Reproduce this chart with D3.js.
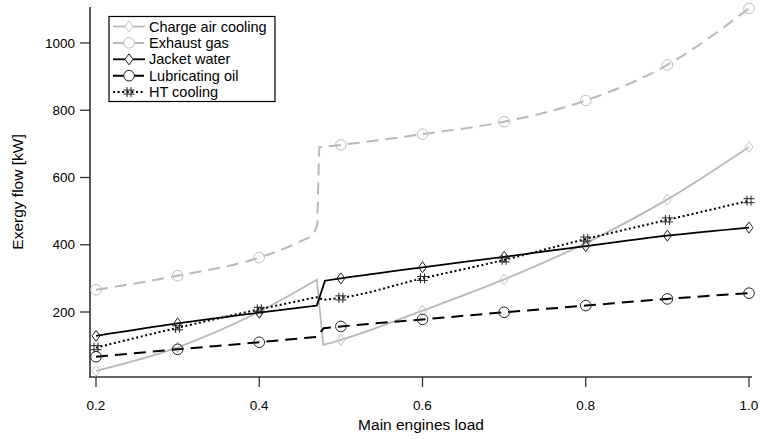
<!DOCTYPE html>
<html>
<head>
<meta charset="utf-8">
<script src="https://cdn.jsdelivr.net/npm/d3@7"></script>
<style>
  body { margin: 0; background: #fff; }
  svg text { font-family: "Liberation Sans", Arial, sans-serif; fill: #000; }
</style>
</head>
<body>
<div id="chart"></div>
<script>
// main engine load (marker positions)
const loads = [0.2, 0.3, 0.4, 0.5, 0.6, 0.7, 0.8, 0.9, 1.0];

// exergy flow [kW] at each load
const chargeAir = [25, 95, 201, 117, 204, 297, 405, 535, 691];
const exhaustGas = [266, 308, 362, 697, 729, 766, 829, 935, 1103];
const jacketWater = [129, 166, 198, 300, 333, 364, 396, 427, 451];
const lubeOil = [67, 89, 110, 157, 178, 199, 219, 239, 256];
const htCooling = [94, 153, 208, 242, 300, 355, 417, 474, 531];

// extra curve points read around the step near load 0.47
const chargeAirJump = [[0.4705, 296], [0.4785, 102]];
const exhaustGasJump = [[0.45, 410], [0.466, 432], [0.471, 458], [0.4735, 690]];
const jacketWaterJump = [[0.4705, 219], [0.4805, 293]];
const lubeOilJump = [[0.4705, 126], [0.479, 152]];
const htCoolingJump = [[0.4705, 244], [0.479, 236]];

const jumpAt = 0.472;

const xTicks = [0.2, 0.4, 0.6, 0.8, 1.0];
const yTicks = [200, 400, 600, 800, 1000];

const width = 760, height = 439;
const plot = { left: 90, right: 752, top: 7, bottom: 377 };

const svg = d3.select('#chart').append('svg')
    .attr('width', width)
    .attr('height', height);

const x = d3.scaleLinear().domain([0.2, 1.0]).range([96, 749]);
const y = d3.scaleLinear().domain([0, 1000]).range([379.25, 43]);

const series = [
    { name: 'Charge air cooling', values: chargeAir, jump: chargeAirJump,
      color: '#b9b9b9', markColor: '#c4c4c4', width: 1.8, dash: null, marker: 'diamond' },
    { name: 'Exhaust gas', values: exhaustGas, jump: exhaustGasJump,
      color: '#b9b9b9', markColor: '#bdbdbd', width: 2, dash: '12,7', marker: 'circle' },
    { name: 'Jacket water', values: jacketWater, jump: jacketWaterJump,
      color: '#000', markColor: '#222', width: 1.8, dash: null, marker: 'diamond' },
    { name: 'Lubricating oil', values: lubeOil, jump: lubeOilJump,
      color: '#000', markColor: '#222', width: 2, dash: '12,7', marker: 'circle' },
    { name: 'HT cooling', values: htCooling, jump: htCoolingJump,
      color: '#000', markColor: '#222', width: 2, dash: '2,2.6', marker: 'hash' }
];

const line = d3.line()
    .x(d => x(d[0]))
    .y(d => y(d[1]))
    .curve(d3.curveMonotoneX);

function markerPath(type) {
    if (type === 'diamond') return 'M0,-5.5L4,0L0,5.5L-4,0Z';
    if (type === 'circle') return d3.symbol(d3.symbolCircle, Math.PI * 5.3 * 5.3)();
    // hash-like marker
    return 'M-2,-5V5M2,-5V5M-5.5,-2H5.5M-5.5,2H5.5';
}

// axes lines
const axisColor = '#333';
svg.append('line')
    .attr('x1', plot.left).attr('x2', plot.left)
    .attr('y1', plot.top).attr('y2', plot.bottom)
    .attr('stroke', axisColor).attr('stroke-width', 1.6);
svg.append('line')
    .attr('x1', plot.left - 1).attr('x2', plot.right)
    .attr('y1', plot.bottom).attr('y2', plot.bottom)
    .attr('stroke', axisColor).attr('stroke-width', 1.6);

// y ticks
const yAxis = svg.append('g');
yTicks.forEach(t => {
    yAxis.append('line')
        .attr('x1', plot.left - 10).attr('x2', plot.left)
        .attr('y1', y(t)).attr('y2', y(t))
        .attr('stroke', axisColor).attr('stroke-width', 1.3);
    yAxis.append('text')
        .attr('x', plot.left - 15).attr('y', y(t) + 4.7)
        .attr('text-anchor', 'end')
        .attr('font-size', 13.5)
        .text(t);
});

// x ticks
const xAxis = svg.append('g');
xTicks.forEach(t => {
    xAxis.append('line')
        .attr('x1', x(t)).attr('x2', x(t))
        .attr('y1', plot.bottom).attr('y2', plot.bottom + 10)
        .attr('stroke', axisColor).attr('stroke-width', 1.3);
    xAxis.append('text')
        .attr('x', x(t)).attr('y', 410)
        .attr('text-anchor', 'middle')
        .attr('font-size', 13.5)
        .text(d3.format('.1f')(t));
});

svg.append('text')
    .attr('x', (plot.left + plot.right) / 2).attr('y', 430)
    .attr('text-anchor', 'middle')
    .attr('font-size', 15.5)
    .text('Main engines load');

svg.append('text')
    .attr('transform', `translate(23, ${(plot.top + plot.bottom) / 2}) rotate(-90)`)
    .attr('text-anchor', 'middle')
    .attr('font-size', 15.5)
    .text('Exergy flow [kW]');

// series lines and markers
series.forEach(s => {
    const pts = loads.map((l, i) => [l, s.values[i]]).concat(s.jump)
        .sort((a, b) => a[0] - b[0]);
    const pre = pts.filter(p => p[0] < jumpAt);
    const post = pts.filter(p => p[0] > jumpAt);
    const d = line(pre) + line(post).replace(/^M/, 'L');

    svg.append('path')
        .attr('d', d)
        .attr('fill', 'none')
        .attr('stroke', s.color)
        .attr('stroke-width', s.width)
        .attr('stroke-dasharray', s.dash);

    svg.append('g').selectAll('path')
        .data(loads.map((l, i) => [l, s.values[i]]))
        .join('path')
        .attr('transform', d => `translate(${x(d[0])},${y(d[1])})`)
        .attr('d', markerPath(s.marker))
        .attr('fill', 'none')
        .attr('stroke', s.markColor)
        .attr('stroke-width', 1);
});

// legend
const legend = svg.append('g');
legend.append('rect')
    .attr('x', 109).attr('y', 16.5)
    .attr('width', 166).attr('height', 85)
    .attr('fill', '#fff')
    .attr('stroke', '#000').attr('stroke-width', 1.2);

series.forEach((s, i) => {
    const ly = 26.5 + i * 16.4;
    legend.append('line')
        .attr('x1', 113).attr('x2', 145)
        .attr('y1', ly).attr('y2', ly)
        .attr('stroke', s.color)
        .attr('stroke-width', s.width)
        .attr('stroke-dasharray', s.dash);
    legend.append('path')
        .attr('transform', `translate(129,${ly})`)
        .attr('d', markerPath(s.marker))
        .attr('fill', s.marker === 'hash' ? 'none' : '#fff')
        .attr('stroke', s.markColor)
        .attr('stroke-width', 1);
    legend.append('text')
        .attr('x', 149).attr('y', ly + 5)
        .attr('font-size', 14.5)
        .text(s.name);
});
</script>
</body>
</html>
